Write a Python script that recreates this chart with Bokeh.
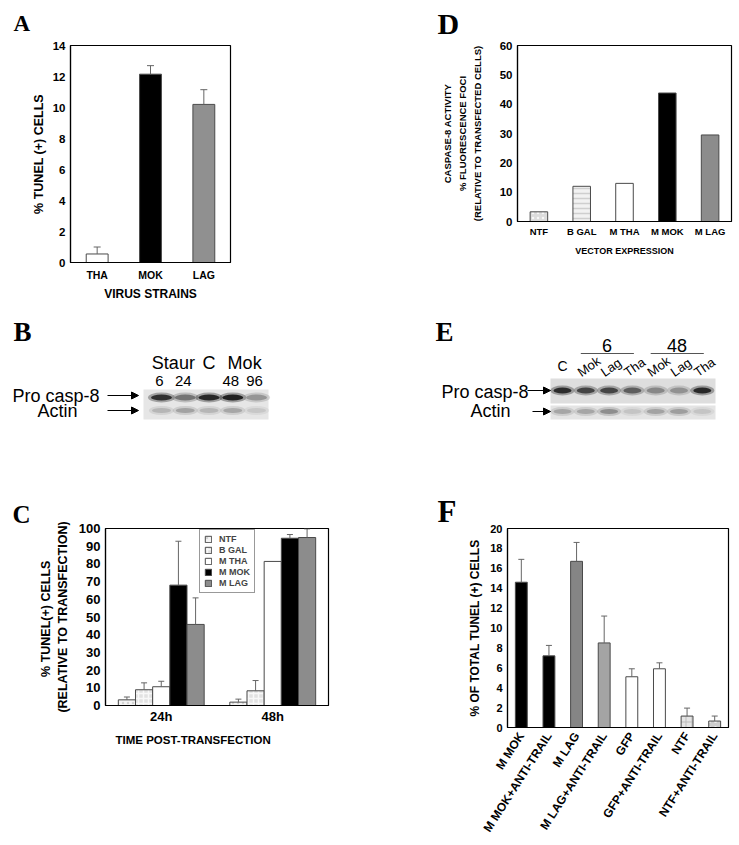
import math
from bokeh.plotting import figure
from bokeh.layouts import column, row
from bokeh.models import (Range1d, FixedTicker, Whisker, TeeHead, ColumnDataSource,
                          Legend, LegendItem, Arrow, NormalHead, Title)
from bokeh.core.properties import value
from bokeh.embed import file_html
from bokeh.resources import INLINE

SANS = "Liberation Sans"
SERIF = "Liberation Serif"

# ---------------- data ----------------
# Panel A
a_strains = ["THA", "MOK", "LAG"]
a_tunel = [0.55, 12.15, 10.2]
a_tunel_err = [1.0, 12.7, 11.15]
a_yticks = [0, 2, 4, 6, 8, 10, 12, 14]

# Panel D
d_vectors = ["NTF", "B GAL", "M THA", "M MOK", "M LAG"]
d_caspase8 = [3.3, 12.0, 13.0, 43.8, 29.5]
d_yticks = [0, 10, 20, 30, 40, 50, 60]

# Panel C
c_times = ["24h", "48h"]
c_series = ["NTF", "B GAL", "M THA", "M MOK", "M LAG"]
c_ntf = [3.2, 1.9]
c_bgal = [8.9, 8.3]
c_mtha = [10.6, 81.4]
c_mmok = [68.0, 94.5]
c_mlag = [45.8, 94.9]
c_ntf_err = [4.8, 3.6]
c_bgal_err = [12.8, 14.1]
c_mtha_err = [13.7, None]
c_mmok_err = [92.8, 96.6]
c_mlag_err = [60.8, 99.8]
c_yticks = [0, 10, 20, 30, 40, 50, 60, 70, 80, 90, 100]

# Panel F
f_conditions = ["M MOK", "M MOK+ANTI-TRAIL", "M LAG", "M LAG+ANTI-TRAIL",
                "GFP", "GFP+ANTI-TRAIL", "NTF", "NTF+ANTI-TRAIL"]
f_tunel = [14.6, 7.2, 16.7, 8.5, 5.1, 5.9, 1.15, 0.65]
f_tunel_err = [16.9, 8.25, 18.6, 11.2, 5.9, 6.5, 1.95, 1.15]
f_yticks = [0, 2, 4, 6, 8, 10, 12, 14, 16, 18, 20]

# Panel B (western blot, band darkness 0..1)
b_groups = ["Staur", "C", "Mok"]
b_group_lanes = [(0, 1), (2, 2), (3, 4)]
b_lanes = ["6", "24", "", "48", "96"]
b_procasp8 = [0.88, 0.55, 0.93, 0.96, 0.38]
b_actin = [0.22, 0.32, 0.22, 0.3, 0.14]

# Panel E (western blot)
e_groups = ["6", "48"]
e_group_lanes = [(1, 3), (4, 6)]
e_lanes = ["C", "Mok", "Lag", "Tha", "Mok", "Lag", "Tha"]
e_procasp8 = [0.9, 0.78, 0.78, 0.66, 0.45, 0.4, 0.92]
e_actin = [0.3, 0.3, 0.42, 0.15, 0.32, 0.34, 0.15]

# ---------------- styles ----------------
ERR_COLOR = "#666666"
BAR_LINE = "#4a4a4a"
D_FILL = ["#dcdcdc", "#f2f2f2", "white", "black", "#8c8c8c"]
D_HATCH = ["dot", "horizontal_line", None, None, None]
D_HATCH_COLOR = ["#f7f7f7", "#cfcfcf", None, None, None]
C_FILL = ["#f4f4f4", "#e2e2e2", "white", "black", "#8c8c8c"]
C_HATCH = ["dot", "cross", None, None, None]
C_HATCH_COLOR = ["#d4d4d4", "#f8f8f8", None, None, None]
F_FILL = ["black", "black", "#858585", "#a4a4a4", "white", "white", "#e4e4e4", "#cdcdcd"]
F_HATCH = [None, None, None, None, None, None, "cross", "dot"]
F_HATCH_COLOR = [None, None, None, None, None, None, "#bdbdbd", "#eeeeee"]


def chart(width, height, fl, ft, fr, fb, xr, yr):
    p = figure(width=width, height=height, x_range=Range1d(*xr), y_range=Range1d(*yr),
               output_backend="svg", toolbar_location=None,
               min_border_left=fl, min_border_top=ft,
               min_border_right=width - fr, min_border_bottom=height - fb)
    p.xgrid.visible = False
    p.ygrid.visible = False
    p.outline_line_color = "black"
    p.outline_line_width = 1.2
    p.outline_line_alpha = 1.0
    p.background_fill_color = "white"
    p.border_fill_color = "white"
    for ax in (p.xaxis[0], p.yaxis[0]):
        ax.axis_line_color = "black"
        ax.axis_line_width = 1.2
        ax.major_tick_line_color = None
        ax.minor_tick_line_color = None
        ax.major_tick_out = 0
        ax.major_tick_in = 0
        ax.minor_tick_out = 0
        ax.minor_tick_in = 0
        ax.major_label_text_font = SANS
        ax.major_label_text_font_style = "bold"
        ax.major_label_text_color = "black"
        ax.axis_label_text_font = SANS
        ax.axis_label_text_font_style = "bold"
        ax.axis_label_text_color = "black"
    return p


def letter(p, text, offset, size, standoff, valign="bottom"):
    p.title.text = text
    p.title.align = "left"
    p.title.offset = offset
    p.title.text_font = SERIF
    p.title.text_font_style = "bold"
    p.title.text_font_size = size
    p.title.text_color = "black"
    p.title.standoff = standoff
    p.title.vertical_align = valign


def whiskers(p, xs, lows, highs, size=7):
    xs2, lo2, hi2 = [], [], []
    for x, lo, hi in zip(xs, lows, highs):
        if hi is None:
            continue
        xs2.append(x)
        lo2.append(lo)
        hi2.append(hi)
    src = ColumnDataSource(dict(base=xs2, lower=lo2, upper=hi2))
    w = Whisker(source=src, base="base", lower="lower", upper="upper", dimension="height",
                line_color=ERR_COLOR, line_width=1,
                upper_head=TeeHead(size=size, line_color=ERR_COLOR, line_width=1),
                lower_head=None, level="overlay")
    p.add_layout(w)


# ---------------- Panel A ----------------
nA = len(a_strains)
pA = chart(370, 303, 70, 45, 230, 263, (0, nA), (0, 14))
ax_pos = [i + 0.5 for i in range(nA)]
pA.vbar(x=ax_pos, top=a_tunel, width=0.41, bottom=0,
        fill_color=["white", "black", "#909090"], line_color=BAR_LINE, line_width=1)
whiskers(pA, ax_pos, a_tunel, a_tunel_err)
pA.xaxis.ticker = FixedTicker(ticks=ax_pos)
pA.xaxis.major_label_overrides = {x: s for x, s in zip(ax_pos, a_strains)}
pA.yaxis.ticker = FixedTicker(ticks=a_yticks)
pA.xaxis.major_label_text_font_size = "10.5px"
pA.yaxis.major_label_text_font_size = "11.5px"
pA.xaxis.major_label_standoff = 6
pA.yaxis.major_label_standoff = 5
pA.xaxis.axis_label = "VIRUS STRAINS"
pA.xaxis.axis_label_text_font_size = "12px"
pA.xaxis.axis_label_standoff = 3
pA.yaxis.axis_label = "% TUNEL (+) CELLS"
pA.yaxis.axis_label_text_font_size = "12.5px"
pA.yaxis.axis_label_standoff = 4
letter(pA, "A", -57, "23px", 16, "top")

# ---------------- Panel D ----------------
nD = len(d_vectors)
pD = chart(369, 262, 147, 45, 361, 222, (0, nD), (0, 60))
dx_pos = [i + 0.5 for i in range(nD)]
pD.vbar(x=dx_pos, top=d_caspase8, width=0.41, bottom=0, fill_color=D_FILL,
        line_color=BAR_LINE, line_width=1, hatch_pattern=D_HATCH, hatch_color=D_HATCH_COLOR,
        hatch_scale=5, hatch_weight=1.5)
pD.xaxis.ticker = FixedTicker(ticks=dx_pos)
pD.xaxis.major_label_overrides = {x: s for x, s in zip(dx_pos, d_vectors)}
pD.yaxis.ticker = FixedTicker(ticks=d_yticks)
pD.xaxis.major_label_text_font_size = "9.5px"
pD.yaxis.major_label_text_font_size = "11.5px"
pD.xaxis.major_label_standoff = 4
pD.yaxis.major_label_standoff = 5
pD.xaxis.axis_label = "VECTOR EXPRESSION"
pD.xaxis.axis_label_text_font_size = "9px"
pD.xaxis.axis_label_standoff = 6
pD.yaxis.axis_label = "CASPASE-8 ACTIVITY\n% FLUORESCENCE FOCI\n(RELATIVE TO TRANSFECTED CELLS)"
pD.yaxis.axis_label_text_font_size = "9.5px"
pD.yaxis.axis_label_text_line_height = 1.35
pD.yaxis.axis_label_standoff = 14
letter(pD, "D", -80, "30px", 8, "top")

# ---------------- Panel C ----------------
nC = len(c_times)
pC = chart(370, 361, 105, 68, 328, 245, (0, nC), (0, 100))
c_vals = [c_ntf, c_bgal, c_mtha, c_mmok, c_mlag]
c_errs = [c_ntf_err, c_bgal_err, c_mtha_err, c_mmok_err, c_mlag_err]
BW = 0.154
c_items = []
for k, (name, vals, errs) in enumerate(zip(c_series, c_vals, c_errs)):
    xs = [g + 0.5 + (k - 2) * BW for g in range(nC)]
    kw = {}
    if C_HATCH[k]:
        kw = dict(hatch_pattern=C_HATCH[k], hatch_color=C_HATCH_COLOR[k], hatch_scale=5,
                  hatch_weight=1.5)
    r = pC.vbar(x=xs, top=vals, width=BW, bottom=0, fill_color=C_FILL[k],
                line_color=BAR_LINE, line_width=1, **kw)
    c_items.append(LegendItem(label=name, renderers=[r]))
    whiskers(pC, xs, vals, errs, size=6)
cx_pos = [g + 0.5 for g in range(nC)]
pC.xaxis.ticker = FixedTicker(ticks=cx_pos)
pC.xaxis.major_label_overrides = {x: s for x, s in zip(cx_pos, c_times)}
pC.yaxis.ticker = FixedTicker(ticks=c_yticks)
pC.xaxis.major_label_text_font_size = "13px"
pC.yaxis.major_label_text_font_size = "13px"
pC.xaxis.major_label_standoff = 3
pC.yaxis.major_label_standoff = 5
pC.yaxis.axis_label = "%  TUNEL(+) CELLS\n(RELATIVE TO TRANSFECTION)"
pC.yaxis.axis_label_text_font_size = "12.5px"
pC.yaxis.axis_label_text_line_height = 1.2
pC.yaxis.axis_label_standoff = 6
legC = Legend(items=c_items, location=(94, 112), label_text_font=SANS,
              label_text_font_style="bold", label_text_font_size="9px",
              glyph_width=8, glyph_height=8, label_height=9, spacing=1, padding=4,
              margin=0, label_standoff=7, border_line_color="#333333", border_line_width=1,
              background_fill_color="white", background_fill_alpha=1.0)
pC.add_layout(legC)
pC.add_layout(Title(text="TIME POST-TRANSFECTION", align="left", offset=10,
                    text_font=SANS, text_font_style="bold", text_font_size="11.5px",
                    text_color="black", standoff=10), "below")
letter(pC, "C", -93, "25px", 1)

# ---------------- Panel F ----------------
nF = len(f_conditions)
pF = chart(369, 383, 137, 68, 358, 267, (0, nF), (0, 20))
fx_pos = [i + 0.5 for i in range(nF)]
for i in range(nF):
    kw = {}
    if F_HATCH[i]:
        kw = dict(hatch_pattern=F_HATCH[i], hatch_color=F_HATCH_COLOR[i], hatch_scale=6,
                  hatch_weight=1)
    pF.vbar(x=[fx_pos[i]], top=[f_tunel[i]], width=0.43, bottom=0, fill_color=F_FILL[i],
            line_color=BAR_LINE, line_width=1, **kw)
whiskers(pF, fx_pos, f_tunel, f_tunel_err, size=6)
pF.xaxis.ticker = FixedTicker(ticks=fx_pos)
pF.xaxis.major_label_overrides = {x: s for x, s in zip(fx_pos, f_conditions)}
pF.xaxis.major_label_orientation = 1.0
pF.yaxis.ticker = FixedTicker(ticks=f_yticks)
pF.xaxis.major_label_text_font_size = "12px"
pF.yaxis.major_label_text_font_size = "11px"
pF.xaxis.major_label_standoff = 6
pF.yaxis.major_label_standoff = 5
pF.yaxis.axis_label = "% OF TOTAL TUNEL (+) CELLS"
pF.yaxis.axis_label_text_font_size = "12px"
pF.yaxis.axis_label_standoff = 5
letter(pF, "F", -70, "31px", 0)


# ---------------- blots (ranges in page pixels) ----------------
ROW2_TOP, ROW2_BOTTOM = 303, 460


def blot_fig(x0, x1):
    p = figure(width=x1 - x0, height=ROW2_BOTTOM - ROW2_TOP, x_range=Range1d(x0, x1),
               y_range=Range1d(ROW2_BOTTOM, ROW2_TOP),
               output_backend="svg", toolbar_location=None, min_border=0,
               x_axis_location=None, y_axis_location=None)
    p.xgrid.visible = False
    p.ygrid.visible = False
    p.outline_line_color = None
    p.background_fill_color = "white"
    p.border_fill_color = "white"
    return p


def band_colors(levels):
    out = []
    for d in levels:
        g = int(round(226 - 215 * d))
        out.append("#%02x%02x%02x" % (g, g, g))
    return out


def bands(p, xs, y, levels, w, h):
    cols = band_colors(levels)
    p.ellipse(x=xs, y=[y] * len(xs), width=w + 6, height=h + 4, fill_color=cols,
              fill_alpha=0.35, line_color=None)
    p.ellipse(x=xs, y=[y] * len(xs), width=w, height=h, fill_color=cols,
              fill_alpha=0.9, line_color=None)


def arrow(p, x0, x1, y):
    p.add_layout(Arrow(end=NormalHead(size=7, fill_color="black", line_color="black"),
                       x_start=x0, y_start=y, x_end=x1, y_end=y, line_width=1,
                       line_color="black"))


def txt(p, x, y, t, size, align="center", baseline="middle", angle=0.0, font=SANS,
        style="normal"):
    p.text(x=[x], y=[y], text=[t], text_font=value(font), text_font_size=size,
           text_font_style=style, text_align=align, text_baseline=baseline, angle=angle,
           text_color="black")


# Panel B
pB = blot_fig(0, 370)
B_LANE0, B_STEP = 161.0, 23.75
bx = [B_LANE0 + B_STEP * i for i in range(len(b_lanes))]
pB.quad(left=[143], right=[268], top=[389], bottom=[419], fill_color="#e6e6e6",
        line_color=None)
bands(pB, bx, 397, b_procasp8, 21, 6)
bands(pB, bx, 410, b_actin, 19, 5)
for g, (l0, l1) in zip(b_groups, b_group_lanes):
    txt(pB, (bx[l0] + bx[l1]) / 2, 362, g, "18px")
for x, t in zip(bx, b_lanes):
    if t:
        txt(pB, x - 2, 380, t, "15px")
txt(pB, 12, 395, "Pro casp-8", "18px", align="left")
txt(pB, 57, 410, "Actin", "18px")
arrow(pB, 107, 138, 395)
arrow(pB, 107, 138, 410)
txt(pB, 13, 331, "B", "27px", align="left", baseline="middle", font=SERIF, style="bold")

# Panel E
pE = blot_fig(370, 739)
E_LANE0, E_STEP = 562.0, 23.3
ex = [E_LANE0 + E_STEP * i for i in range(len(e_lanes))]
pE.quad(left=[550], right=[715], top=[378], bottom=[403], fill_color="#dedede",
        line_color=None)
pE.quad(left=[550], right=[715], top=[405], bottom=[419], fill_color="#e4e4e4",
        line_color=None)
bands(pE, ex, 390, e_procasp8, 18, 6)
bands(pE, ex, 411, e_actin, 18, 5)
for g, (l0, l1) in zip(e_groups, e_group_lanes):
    txt(pE, (ex[l0] + ex[l1]) / 2 - 2, 345, g, "18px")
    pE.segment(x0=[ex[l0] - 5], x1=[ex[l1] + 1.5], y0=[353], y1=[353], line_color="#555555",
               line_width=1)
for i, (x, t) in enumerate(zip(ex, e_lanes)):
    if i == 0:
        txt(pE, x, 365, t, "14px")
    else:
        txt(pE, x - 7, 373, t, "13px", align="left", baseline="alphabetic", angle=0.61)
txt(pE, 441, 391, "Pro casp-8", "18px", align="left")
txt(pE, 490, 410, "Actin", "18px")
arrow(pE, 527, 550, 390)
arrow(pE, 532, 550, 411)
txt(pE, 435, 331, "E", "27px", align="left", baseline="middle", font=SERIF, style="bold")

layout = column(row(pA, pD), row(pB, pE), row(pC, pF))
open("out.html", "w").write(file_html(layout, INLINE))
